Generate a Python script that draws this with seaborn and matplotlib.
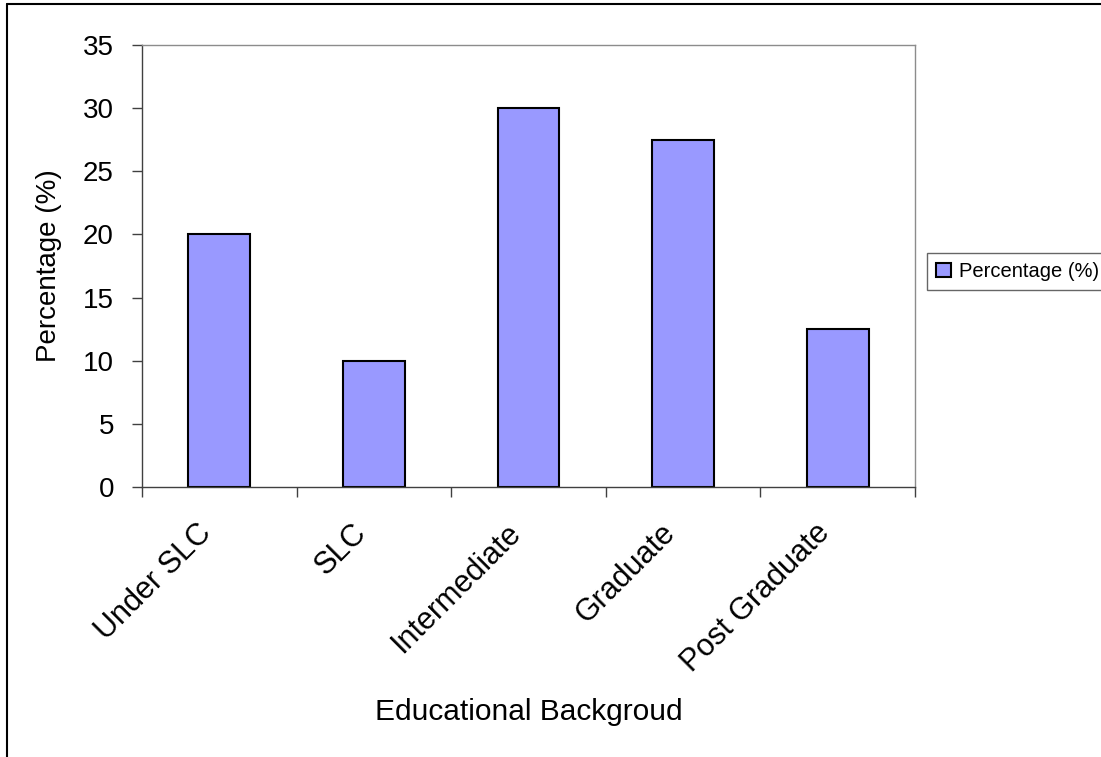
import pandas as pd
import matplotlib.pyplot as plt
import matplotlib.transforms as mtransforms
from matplotlib.lines import Line2D
import seaborn as sns

# chart data
categories = ['Under SLC', 'SLC', 'Intermediate', 'Graduate', 'Post Graduate']
percentages = [20, 10, 30, 27.5, 12.5]
y_ticks = [0, 5, 10, 15, 20, 25, 30, 35]

df = pd.DataFrame({'education': categories, 'percentage': percentages})

sns.set_style('white')
plt.rcParams['font.family'] = ['Liberation Sans', 'DejaVu Sans']
plt.rcParams['text.color'] = 'black'
plt.rcParams['axes.labelcolor'] = 'black'
plt.rcParams['xtick.color'] = 'black'
plt.rcParams['ytick.color'] = 'black'

W, H = 1101, 757
fig = plt.figure(figsize=(W / 100, H / 100), dpi=100)
ax = fig.add_axes([142 / W, 1 - 487 / H, (915 - 142) / W, (487 - 45) / H])

sns.barplot(data=df, x='education', y='percentage', color='#9999FF', saturation=1,
            width=0.4, edgecolor='black', linewidth=1.5, label='Percentage (%)', ax=ax)

ax.set_xlim(-0.5, len(categories) - 0.5)
ax.set_ylim(0, 35)
ax.set_yticks(y_ticks)
ax.set_yticklabels([str(t) for t in y_ticks], fontsize=20)

# category labels at the centres, tick marks on the boundaries
ax.set_xticks(range(len(categories)))
ax.set_xticklabels(categories, fontsize=22, rotation=45, ha='right', va='center',
                   rotation_mode='anchor')
ax.set_xticks([i - 0.5 for i in range(len(categories) + 1)], minor=True)
ax.tick_params(axis='x', which='major', length=0, pad=30)
ax.tick_params(axis='x', which='minor', length=7.2, width=1, color='#404040', direction='out', bottom=True)
ax.tick_params(axis='y', length=7.2, width=1, color='#404040', direction='out', left=True, pad=13)

shift = mtransforms.ScaledTranslation(-12 / 100, 0, fig.dpi_scale_trans)
for lab in ax.get_xticklabels():
    lab.set_transform(lab.get_transform() + shift)

for side in ['left', 'bottom']:
    ax.spines[side].set_color('#404040')
    ax.spines[side].set_linewidth(1.0)
for side in ['top', 'right']:
    ax.spines[side].set_color('#8c8c8c')
    ax.spines[side].set_linewidth(1.0)

ax.set_xlabel('Educational Backgroud', fontsize=21.5)
ax.set_ylabel('Percentage (%)', fontsize=20)
ax.xaxis.set_label_coords(0.5, (487 - 712) / (487 - 45))
ax.xaxis.label.set_va('center')
ax.yaxis.set_label_coords((49 - 142) / (915 - 142), 0.5)
ax.yaxis.label.set_va('center')

leg = ax.legend(loc='upper left', bbox_to_anchor=(927 / W, 1 - 253 / H),
                bbox_transform=fig.transFigure, borderaxespad=0, fontsize=14.5,
                frameon=True, fancybox=False, handlelength=0.75, handleheight=0.75,
                handletextpad=0.4, borderpad=0.45)
leg.get_frame().set_edgecolor('#404040')
leg.get_frame().set_linewidth(1.0)

# outer chart border (cropped on the right and bottom)
fig.add_artist(Line2D([7 / W, 7 / W], [0, 1 - 4 / H], color='black', lw=1.5,
                      transform=fig.transFigure))
fig.add_artist(Line2D([7 / W, 1], [1 - 4 / H, 1 - 4 / H], color='black', lw=1.5,
                      transform=fig.transFigure))

fig.savefig('out.png', dpi=100, facecolor='white')
